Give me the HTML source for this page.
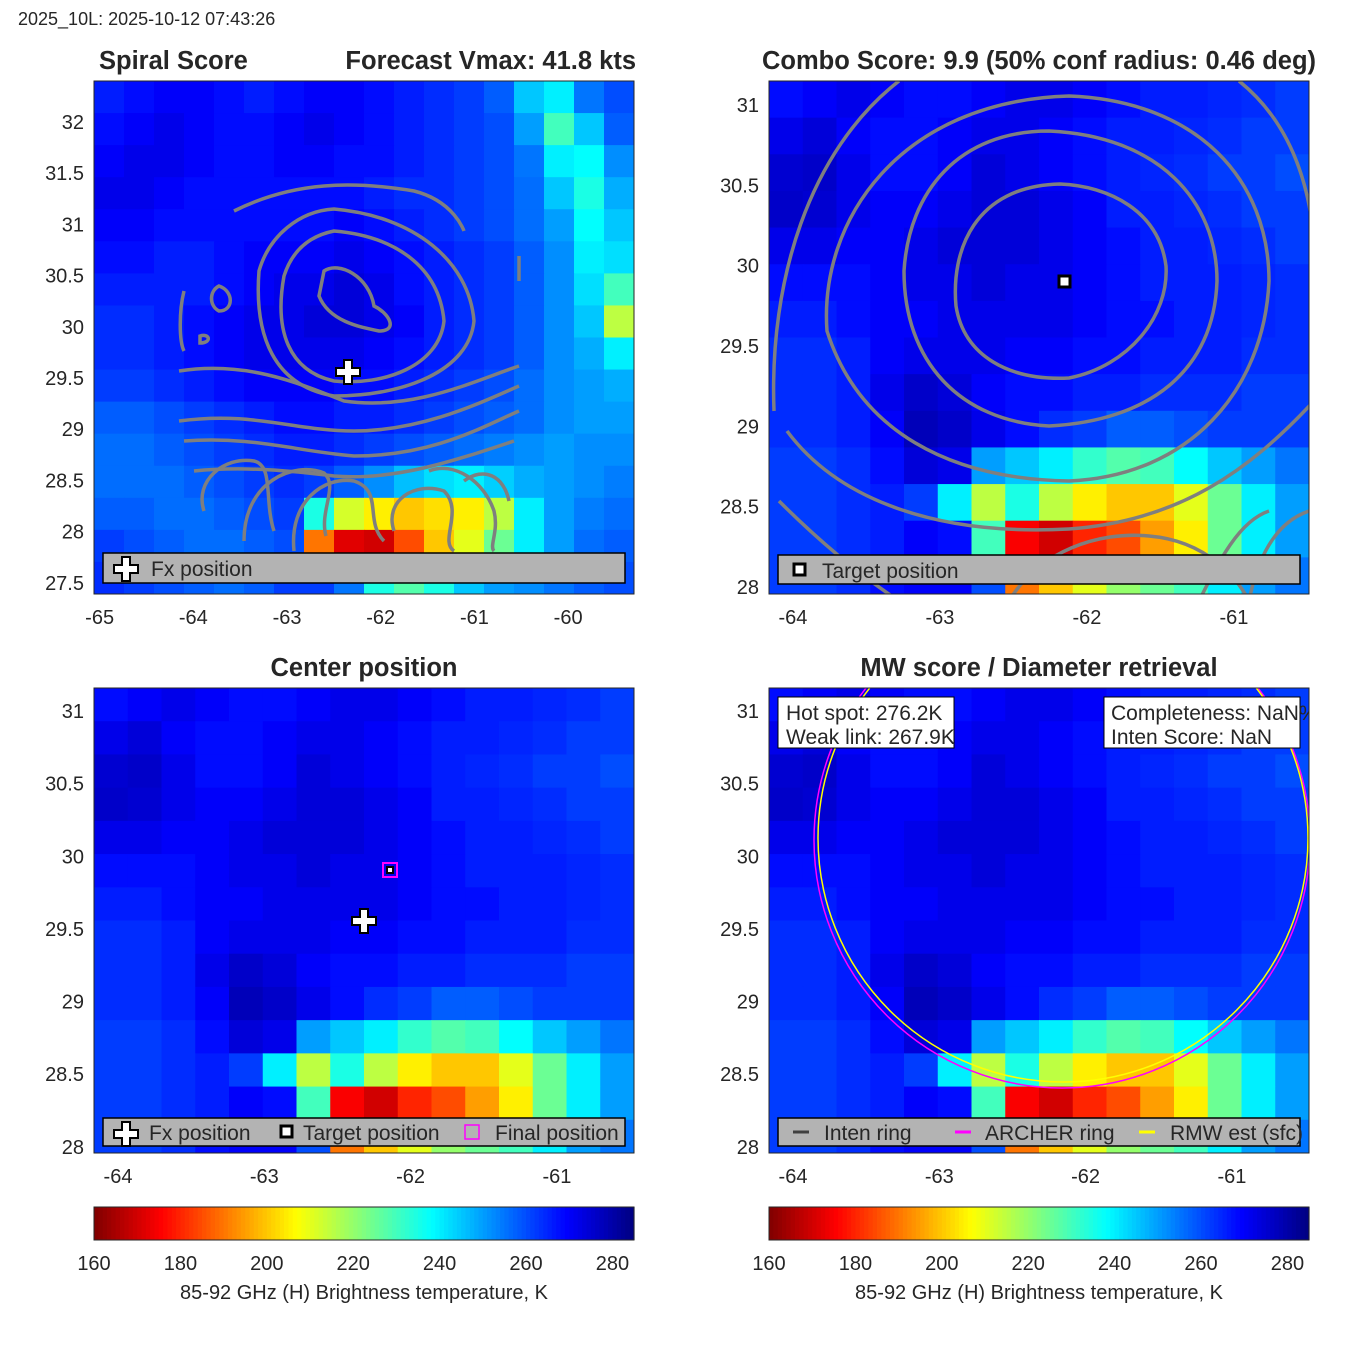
<!DOCTYPE html>
<html><head><meta charset="utf-8"><style>
body{margin:0;background:#fff;}
svg text{font-family:"Liberation Sans",sans-serif;fill:#262626;}
</style></head><body>
<svg id="root" width="1350" height="1350" viewBox="0 0 1350 1350" xmlns="http://www.w3.org/2000/svg">
<text x="18" y="25" font-size="18" fill="#000">2025_10L: 2025-10-12 07:43:26</text>
<text x="99" y="69" font-size="25.5" font-weight="bold" fill="#000">Spiral Score</text>
<text x="636" y="69" font-size="25.5" font-weight="bold" text-anchor="end" fill="#000">Forecast Vmax: 41.8 kts</text>
<text x="1039" y="69" font-size="25.5" font-weight="bold" text-anchor="middle" fill="#000">Combo Score: 9.9  (50% conf radius: 0.46 deg)</text>
<text x="364" y="676" font-size="25.5" font-weight="bold" text-anchor="middle" fill="#000">Center position</text>
<text x="1039" y="676" font-size="25.5" font-weight="bold" text-anchor="middle" fill="#000">MW score / Diameter retrieval</text>

<svg id="p1" x="94" y="81" width="540" height="513"><g id="h1"></g>
<g fill="none" stroke="#7f7f7f" stroke-width="3.5">
<path d="M230,190 C245,180 275,195 280,225 C295,232 305,250 285,250 C265,246 235,240 225,215 Z"/>
<path d="M240,150 C300,155 345,185 350,240 C345,285 290,305 240,300 C195,290 180,250 190,195 C198,170 215,155 240,150 Z"/>
<path d="M240,128 C320,135 375,180 380,240 C375,290 310,315 240,315 C180,305 160,255 165,190 C175,155 205,130 240,128 Z"/>
<path d="M140,130 C200,100 260,100 320,110 C360,120 370,150 370,150"/>
<path d="M85,290 C150,280 200,300 250,320 C320,330 380,300 425,285"/>
<path d="M85,340 C160,330 200,350 260,350 C330,350 390,320 425,305"/>
<path d="M90,360 C160,355 200,370 260,375 C340,375 390,345 425,330"/>
<path d="M100,390 C150,385 200,390 240,395 C300,400 360,380 420,360"/>
<path d="M110,430 C100,400 130,375 160,380 C180,385 170,420 180,450"/>
<path d="M150,460 C150,400 200,380 230,392 C245,405 225,430 232,455"/>
<path d="M200,470 C195,420 230,395 260,400 C290,410 270,440 290,460"/>
<path d="M300,450 C290,420 320,400 350,410 C370,430 345,460 360,470"/>
<path d="M335,390 C360,380 390,400 400,430 C405,450 395,465 400,470"/>
<path d="M370,400 C390,385 410,395 415,420"/>
<path d="M90,210 C85,230 85,260 90,270"/>
<path d="M125,205 C140,210 140,230 125,230 C115,225 115,210 125,205 Z"/>
<path d="M106,255 C116,252 118,262 106,262 Z"/>
<path d="M425,175 L425,200"/>
</g>
<g><path d="M250,279h8v8h8v8h-8v8h-8v-8h-8v-8h8z" fill="#fff" stroke="#000" stroke-width="2"/></g>
<g><rect x="9" y="472" width="522" height="30" fill="#b3b3b3" stroke="#000" stroke-width="1.5"/>
<path d="M28,476h8v8h8v8h-8v8h-8v-8h-8v-8h8z" fill="#fff" stroke="#000" stroke-width="2"/>
<text x="57" y="495" font-size="21" fill="#000">Fx position</text></g>
</svg>
<rect x="94" y="81" width="540" height="513" fill="none" stroke="#262626" stroke-width="1"/>

<svg id="p2" x="769" y="81" width="540" height="513"><g id="h2"></g>
<g fill="none" stroke="#7f7f7f" stroke-width="3.5">
<path d="M291,103 C340,105 390,130 397,185 C400,235 360,285 300,297 C240,300 195,275 187,225 C182,170 205,105 291,103 Z"/>
<path d="M280,50 C390,55 448,120 448,200 C445,290 380,340 280,345 C190,340 135,280 135,190 C140,110 190,50 280,50 Z"/>
<path d="M300,15 C430,20 500,100 500,200 C495,310 420,395 300,400 C180,398 90,350 58,250 C50,140 130,20 300,15 Z"/>
<path d="M5,330 C0,200 40,70 130,0"/>
<path d="M470,0 C520,40 540,100 545,160"/>
<path d="M18,350 C70,420 170,455 300,448 C410,440 480,390 545,320"/>
<path d="M10,420 C60,470 100,500 130,520"/>
<path d="M240,520 C270,470 330,450 380,455 C440,460 470,500 480,520"/>
<path d="M430,520 C450,480 470,440 500,430"/>
<path d="M480,520 C490,470 510,440 540,430"/>
</g>
<g><rect x="290" y="195" width="11" height="11" fill="#fff" stroke="#000" stroke-width="3"/></g>
<g><rect x="9" y="474" width="522" height="29" fill="#b3b3b3" stroke="#000" stroke-width="1.5"/>
<rect x="25" y="483" width="11" height="11" fill="#fff" stroke="#000" stroke-width="3"/>
<text x="53" y="497" font-size="21" fill="#000">Target position</text></g>
</svg>
<rect x="769" y="81" width="540" height="513" fill="none" stroke="#262626" stroke-width="1"/>

<svg id="p3" x="94" y="688" width="540" height="465"><g id="h3"></g>
<g><rect x="289" y="175" width="14" height="14" fill="none" stroke="#ff00ff" stroke-width="2"/><rect x="293" y="179" width="6" height="6" fill="#fff" stroke="#000" stroke-width="2"/></g>
<g><path d="M266,221h8v8h8v8h-8v8h-8v-8h-8v-8h8z" fill="#fff" stroke="#000" stroke-width="2"/></g>
<g><rect x="9" y="430" width="522" height="28" fill="#b3b3b3" stroke="#000" stroke-width="1.5"/>
<path d="M28,434h8v8h8v8h-8v8h-8v-8h-8v-8h8z" fill="#fff" stroke="#000" stroke-width="2"/>
<text x="55" y="452" font-size="21" fill="#000">Fx position</text>
<rect x="187" y="438" width="11" height="11" fill="#fff" stroke="#000" stroke-width="3"/>
<text x="209" y="452" font-size="21" fill="#000">Target position</text>
<rect x="371" y="437" width="14" height="14" fill="none" stroke="#ff00ff" stroke-width="1.5"/>
<text x="401" y="452" font-size="21" fill="#000">Final position</text></g>
</svg>
<rect x="94" y="688" width="540" height="465" fill="none" stroke="#262626" stroke-width="1"/>

<svg id="p4" x="769" y="688" width="540" height="465"><g id="h4"></g>
<ellipse cx="293" cy="152" rx="248" ry="248" fill="none" stroke="#ff00ff" stroke-width="1.5"/>
<ellipse cx="294" cy="150" rx="245" ry="244" fill="none" stroke="#ffff00" stroke-width="1.5"/>
<g><rect x="9" y="9" width="176" height="51" fill="#fff" stroke="#000" stroke-width="1"/>
<text x="17" y="32" font-size="21" fill="#000">Hot spot: 276.2K</text><text x="17" y="56" font-size="21" fill="#000">Weak link: 267.9K</text></g>
<g><rect x="335" y="9" width="196" height="51" fill="#fff" stroke="#000" stroke-width="1"/>
<text x="342" y="32" font-size="21" fill="#000">Completeness: NaN%</text><text x="342" y="56" font-size="21" fill="#000">Inten Score: NaN</text></g>
<g><rect x="9" y="430" width="522" height="28" fill="#b3b3b3" stroke="#000" stroke-width="1.5"/>
<line x1="24" y1="444" x2="40" y2="444" stroke="#404040" stroke-width="3"/><text x="55" y="452" font-size="21" fill="#000">Inten ring</text>
<line x1="186" y1="444" x2="202" y2="444" stroke="#ff00ff" stroke-width="3"/><text x="216" y="452" font-size="21" fill="#000">ARCHER ring</text>
<line x1="370" y1="444" x2="386" y2="444" stroke="#ffff00" stroke-width="3"/><text x="401" y="452" font-size="21" fill="#000">RMW est (sfc)</text></g>
</svg>
<rect x="769" y="688" width="540" height="465" fill="none" stroke="#262626" stroke-width="1"/>

<g id="axes"></g>
<g id="cbars"></g>
</svg>
<script>
const NS='http://www.w3.org/2000/svg';
// Panel 1 brightness temperature grid (lon -65.06..-59.3, lat 32.4..27.4)
const grid1=[
[266,268,270,270,268,266,268,270,270,268,266,264,262,258,245,240,255,260],
[268,270,272,270,268,268,270,272,270,268,266,264,262,260,250,230,245,258],
[270,272,272,270,268,268,270,270,268,268,266,264,262,260,255,240,238,252],
[272,272,270,268,268,268,268,268,268,266,264,264,262,260,256,245,235,248],
[270,270,268,268,268,268,268,268,270,268,266,264,262,260,256,250,238,245],
[268,268,266,266,268,270,270,270,272,270,268,266,264,262,258,252,240,242],
[266,266,266,266,268,270,272,272,274,272,268,266,264,262,258,252,242,230],
[264,264,266,268,270,272,272,274,274,272,270,266,264,262,258,252,245,215],
[264,264,266,268,270,272,272,272,272,270,268,266,264,262,258,252,248,240],
[262,262,264,266,268,270,270,270,268,268,266,264,262,260,256,252,250,248],
[258,258,260,262,264,266,268,268,266,266,264,262,260,258,256,252,250,250],
[256,256,258,260,262,264,266,266,264,262,260,258,256,254,252,250,252,252],
[256,256,256,258,260,262,264,262,258,252,246,242,240,244,248,250,252,254],
[258,258,256,256,258,260,262,235,212,205,200,203,205,215,240,250,254,256],
[262,260,258,256,256,258,260,190,172,170,185,200,210,225,240,250,256,258],
[264,262,260,258,256,258,262,262,255,235,228,235,245,250,252,255,258,260]];
// Shared grid for panels 2-4 (lon -64.16..-60.47, lat 31.16..27.96)
const grid2=[
[268,270,272,270,268,268,270,272,272,270,268,266,266,265,264,262],
[272,274,270,268,268,270,272,272,270,268,266,266,265,264,262,262],
[275,276,272,268,268,270,274,272,270,268,266,265,264,262,262,260],
[276,275,272,270,270,272,274,274,272,270,266,266,265,264,262,262],
[272,272,270,270,272,274,274,274,272,270,268,266,266,265,264,262],
[268,268,268,270,272,272,274,272,272,270,268,266,266,266,265,264],
[266,266,268,270,270,272,272,272,272,270,268,268,266,266,265,264],
[264,264,266,270,272,272,272,270,270,268,268,266,266,266,264,264],
[264,264,266,272,276,274,270,268,268,266,266,264,264,264,262,262],
[264,264,266,270,278,276,272,268,264,262,258,258,260,262,262,262],
[262,262,264,268,274,272,250,245,240,232,228,230,238,245,250,255],
[262,262,264,266,262,240,215,235,215,205,200,200,210,225,240,250],
[262,262,264,266,270,268,230,175,170,180,185,195,205,225,240,250],
[262,262,264,268,270,270,260,190,200,210,220,225,230,240,250,255]];
const cbTicks=[160,180,200,220,240,260,280];
const p1XTicks=[-65,-64,-63,-62,-61,-60];
const p1YTicks=[32,31.5,31,30.5,30,29.5,29,28.5,28,27.5];
const p2XTicks=[-64,-63,-62,-61];
const p2YTicks=[31,30.5,30,29.5,29,28.5,28];

function jet(T){let t=(285-T)/125;t=Math.max(0,Math.min(1,t));
 const c=v=>Math.round(255*Math.max(0,Math.min(1,v)));
 return `rgb(${c(1.5-Math.abs(4*t-3))},${c(1.5-Math.abs(4*t-2))},${c(1.5-Math.abs(4*t-1))})`;}
function heat(id,grid,w,h){const g=document.getElementById(id);const R=grid.length,C=grid[0].length;
 grid.forEach((row,i)=>row.forEach((v,j)=>{const r=document.createElementNS(NS,'rect');
  r.setAttribute('x',(j*w/C).toFixed(2));r.setAttribute('y',(i*h/R).toFixed(2));
  r.setAttribute('width',(w/C+0.6).toFixed(2));r.setAttribute('height',(h/R+0.6).toFixed(2));
  r.setAttribute('fill',jet(v));
  
  
  g.appendChild(r);}));}
heat('h1',grid1,540,513);heat('h2',grid2,540,513);heat('h3',grid2,540,465);heat('h4',grid2,540,465);

const ax=document.getElementById('axes');
function txt(x,y,s,anchor){const t=document.createElementNS(NS,'text');t.setAttribute('x',x);t.setAttribute('y',y);
 t.setAttribute('font-size','20');t.setAttribute('text-anchor',anchor);t.textContent=s;
 
 
 ax.appendChild(t);return t;}
function axes(xt,yt,xf,yf,bottom,left){xt.forEach(v=>txt(xf(v),bottom+30,String(v),'middle'));
 yt.forEach(v=>txt(left-10,yf(v)+7,String(v),'end'));}
axes(p1XTicks,p1YTicks,v=>94+(v+65.06)*93.7,v=>81+(32.4-v)*102.4,594,94);
axes(p2XTicks,p2YTicks,v=>769+(v+64.163)*147,v=>81+(31.149-v)*160.7,594,769);
axes(p2XTicks,p2YTicks,v=>94+(v+64.164)*146.3,v=>688+(31.158-v)*145.3,1153,94);
axes(p2XTicks,p2YTicks,v=>769+(v+64.164)*146.3,v=>688+(31.158-v)*145.3,1153,769);

const cb=document.getElementById('cbars');
[94,769].forEach(x0=>{for(let i=0;i<125;i++){const r=document.createElementNS(NS,'rect');
  r.setAttribute('x',(x0+i*4.32).toFixed(2));r.setAttribute('y',1207);r.setAttribute('width',4.9);r.setAttribute('height',33);
  r.setAttribute('fill',jet(160+i+0.5));
  
  
  cb.appendChild(r);}
 const b=document.createElementNS(NS,'rect');b.setAttribute('x',x0);b.setAttribute('y',1207);b.setAttribute('width',540);b.setAttribute('height',33);
 b.setAttribute('fill','none');b.setAttribute('stroke','#262626');
 
 
 cb.appendChild(b);
 cbTicks.forEach(v=>{const t=txt(x0+(v-160)*4.32,1270,String(v),'middle');});
 const l=document.createElementNS(NS,'text');l.setAttribute('x',x0+270);l.setAttribute('y',1299);l.setAttribute('font-size','20');
 l.setAttribute('text-anchor','middle');l.textContent='85-92 GHz (H) Brightness temperature, K';
 
 
 cb.appendChild(l);});
</script>
</body></html>
